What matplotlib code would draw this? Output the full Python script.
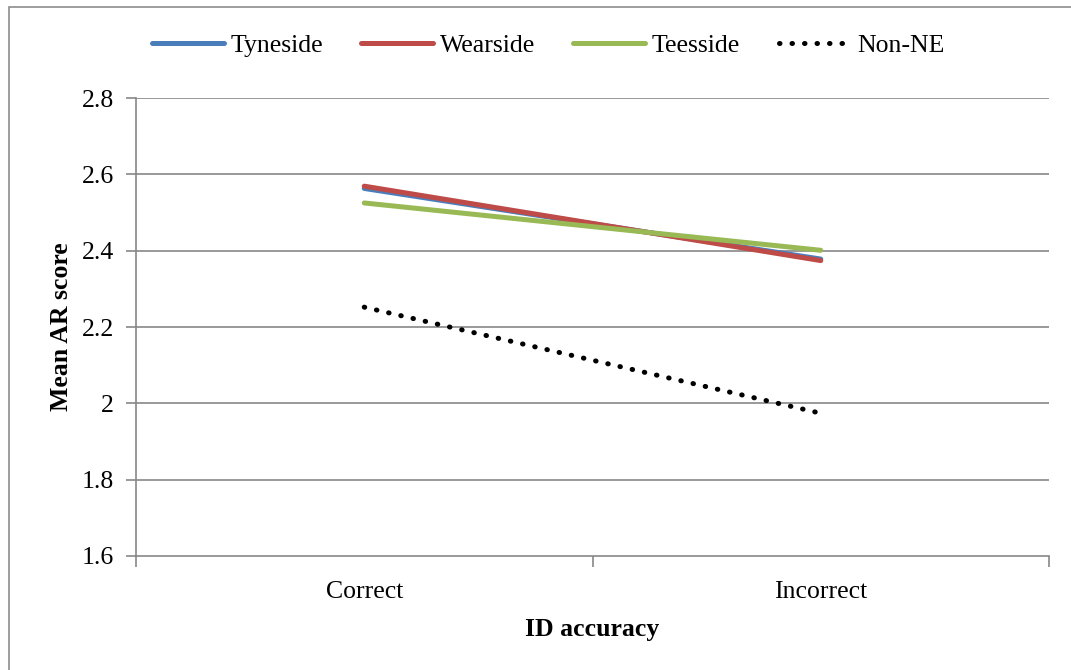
import matplotlib.pyplot as plt
from matplotlib.patches import Rectangle

plt.rcParams['font.family'] = ['Liberation Serif', 'DejaVu Serif']

categories = ['Correct', 'Incorrect']
tyneside = [2.563, 2.378]
wearside = [2.569, 2.374]
teesside = [2.525, 2.401]
non_ne = [2.252, 1.974]
y_ticks = [1.6, 1.8, 2.0, 2.2, 2.4, 2.6, 2.8]
y_tick_labels = ['1.6', '1.8', '2', '2.2', '2.4', '2.6', '2.8']

W, H = 1071, 670
fig = plt.figure(figsize=(W / 100, H / 100), dpi=100)

# outer chart border
fig.patches.append(Rectangle((9 / W, -0.05), 1.1, (H - 7) / H + 0.05, transform=fig.transFigure,
                             fill=False, edgecolor='#8c8c8c', linewidth=1.2))

ax = fig.add_axes([136 / W, 1 - 556 / H, (1049 - 136) / W, (556 - 98) / H])
x = [0.5, 1.5]
grey = '#878787'
fs = 18.5

ax.plot(x, tyneside, color='#4a7ebb', lw=3.6, solid_capstyle='round', label='Tyneside', zorder=3)
ax.plot(x, wearside, color='#be4b48', lw=3.6, solid_capstyle='round', label='Wearside', zorder=4)
ax.plot(x, teesside, color='#98b954', lw=3.6, solid_capstyle='round', label='Teesside', zorder=5)
ax.plot(x, non_ne, color='black', lw=3.6, linestyle=(0, (0.1, 2.4)), dash_capstyle='round',
        label='Non-NE', zorder=6)

ax.set_xlim(0, 2)
ax.set_ylim(1.6, 2.8)
ax.set_yticks(y_ticks)
ax.set_yticklabels(y_tick_labels)
ax.set_xticks([0, 1, 2])
ax.set_xticklabels([])
ax.set_xticks(x, minor=True)
ax.set_xticklabels(categories, minor=True)
ax.tick_params(axis='x', which='minor', length=0, pad=18, labelsize=fs)
ax.tick_params(axis='x', which='major', length=8, direction='out', color=grey, width=1.2)
ax.tick_params(axis='y', length=7, direction='out', color=grey, width=1.2, pad=9, labelsize=fs)

for v in y_ticks[1:]:
    ax.axhline(v, color=grey, lw=1.2, zorder=1)
for s in ['top', 'right']:
    ax.spines[s].set_visible(False)
for s in ['left', 'bottom']:
    ax.spines[s].set_color(grey)
    ax.spines[s].set_linewidth(1.2)

ax.set_xlabel('ID accuracy', fontsize=fs, fontweight='bold', labelpad=11)
ax.set_ylabel('Mean AR score', fontsize=fs, fontweight='bold', labelpad=6)

leg = fig.legend(loc='center', bbox_to_anchor=(548 / W, 1 - 46 / H), ncol=4, frameon=False,
                 fontsize=fs, handlelength=2.8, handletextpad=0.25, columnspacing=1.5)

fig.savefig('out.png', dpi=100)
